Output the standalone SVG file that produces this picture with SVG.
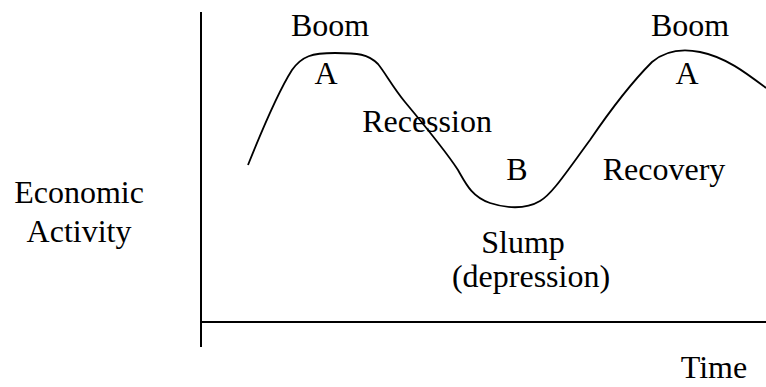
<svg xmlns="http://www.w3.org/2000/svg" width="766" height="387" viewBox="0 0 766 387">
<style>
text{font-family:"Liberation Serif","Times New Roman",Times,serif;font-size:32px;fill:#000;text-anchor:middle}
.ax{stroke:#000;stroke-width:2;fill:none}
.cv{stroke:#000;stroke-width:1.8;fill:none}
</style>
<rect width="766" height="387" fill="#fff"/>
<g id="axes">
<line class="ax" x1="201" y1="12" x2="201" y2="347"/>
<line class="ax" x1="200" y1="322" x2="766" y2="322"/>
</g>
<g id="connectors">
<path class="cv" d="M248,165 C262,130 278,92 292,70 C302,56 312,53 335,53 C358,53 368,54 378,64 C386,74 392,86 405,102 C425,126 445,150 458,170 C466,184 472,197 490,203 C505,208 525,210 540,201 C552,194 565,174 590,140 C605,118 630,84 652,62 C665,51 680,48 700,52 C725,57 745,72 766,88"/>
</g>
<g id="labels">
<text x="330" y="36">Boom</text>
<text x="326" y="84">A</text>
<text x="690" y="36">Boom</text>
<text x="687" y="84">A</text>
<text x="427" y="132">Recession</text>
<text x="517" y="180">B</text>
<text x="664" y="180">Recovery</text>
<text x="523" y="253">Slump</text>
<text x="531" y="287">(depression)</text>
<text x="79" y="203">Economic</text>
<text x="79" y="242">Activity</text>
<text x="714" y="378">Time</text>
</g>
</svg>
